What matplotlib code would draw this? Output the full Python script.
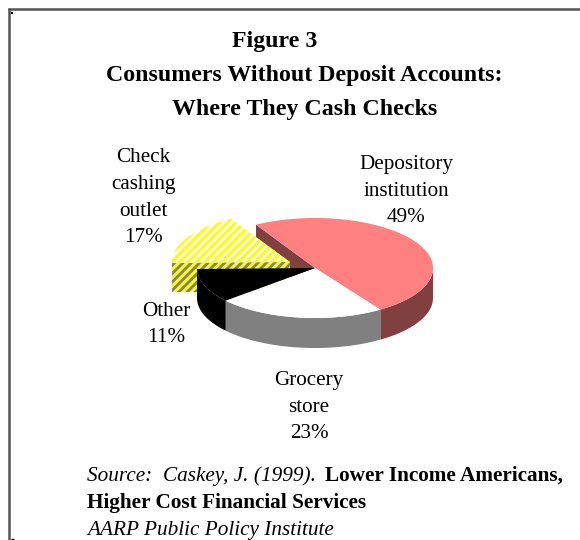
""" Figure 3: pie with fake 3D depth, drawn in pixel coordinates """
import numpy as np
import matplotlib
matplotlib.use('Agg')
import matplotlib.pyplot as plt
from matplotlib.patches import Polygon

plt.rcParams['font.family'] = ['Liberation Serif', 'DejaVu Serif']
plt.rcParams['hatch.linewidth'] = 2.2

title_lines = ['Figure 3', 'Consumers Without Deposit Accounts:', 'Where They Cash Checks']
categories = ['Depository\ninstitution', 'Grocery\nstore', 'Other', 'Check\ncashing\noutlet']
shares = [49, 23, 11, 17]

W, H = 580, 540
CX, CY = 315, 268
RX, RY = 118, 50
DEPTH = 30
START = 120  # degrees, slices run clockwise from here
XC, YC = CX - 25, CY - 6  # centre of the pulled out slice

fig = plt.figure(figsize=(W / 100, H / 100), dpi=100)
ax = fig.add_axes([0, 0, 1, 1])
ax.set_xlim(0, W)
ax.set_ylim(H, 0)
ax.axis('off')


def rim(a0, a1, cx=CX, cy=CY):
    t = np.radians(np.linspace(a0, a1, 80))
    return np.column_stack([cx + RX * np.cos(t), cy - RY * np.sin(t)])


def wedge(a0, a1, cx=CX, cy=CY):
    return np.vstack([[cx, cy], rim(a0, a1, cx, cy)])


def wall(a0, a1):
    top = rim(a0, a1)
    return np.vstack([top, top[::-1] + [0, DEPTH]])


edges = START - np.cumsum([0] + [s * 3.6 for s in shares])
a_dep = (edges[1], edges[0])
a_gro = (edges[2], edges[1])
a_oth = (edges[3], edges[2])
a_chk = (edges[4], edges[3])

# cut face of the big slice, seen through the gap
cut = np.array([rim(START, START, CX, CY)[0], [CX, CY]])
ax.add_patch(Polygon(np.vstack([cut, cut[::-1] + [0, DEPTH]]), facecolor='#804040', lw=0, zorder=1))

# pulled out slice: cut face first, then its top
left = XC - RX
ax.add_patch(Polygon([[left, YC], [XC, YC], [XC, YC + DEPTH], [left, YC + DEPTH]],
                     facecolor='#808080', edgecolor='#ffff00', hatch='////', lw=0, zorder=2))
ax.add_patch(Polygon(wedge(*a_chk, XC, YC), facecolor='white', edgecolor='#ffff00', hatch='////', lw=0, zorder=2))

# outer walls of the body
ax.add_patch(Polygon(wall(a_dep[0], 0), facecolor='#804040', lw=0, zorder=3))
ax.add_patch(Polygon(wall(*a_gro), facecolor='#808080', lw=0, zorder=3))
ax.add_patch(Polygon(wall(*a_oth), facecolor='black', lw=0, zorder=3))

# top faces
ax.add_patch(Polygon(wedge(*a_dep), facecolor='#ff8080', lw=0, zorder=4))
ax.add_patch(Polygon(wedge(*a_gro), facecolor='white', lw=0, zorder=4))
ax.add_patch(Polygon(wedge(*a_oth), facecolor='black', lw=0, zorder=4))

# text
title_x = [275, 304, 305]
title_y = [41, 75, 109]
for line, x, y in zip(title_lines, title_x, title_y):
    ax.text(x, y, line, ha='center', va='center', fontsize=17.2, fontweight='bold')

label_pos = [(406, 164), (309, 380), (166, 311), (143, 157)]
for name, share, (x, y) in zip(categories, shares, label_pos):
    for i, part in enumerate(f'{name}\n{share}%'.split('\n')):
        ax.text(x, y + i * 27, part, ha='center', va='center', fontsize=15.2)

ax.text(87, 476, 'Source:  Caskey, J. (1999).', ha='left', va='center', fontsize=15.3, style='italic')
ax.text(325, 476, 'Lower Income Americans,', ha='left', va='center', fontsize=15.3, fontweight='bold')
ax.text(87, 503, 'Higher Cost Financial Services', ha='left', va='center', fontsize=15.3, fontweight='bold')
ax.text(87, 530, 'AARP Public Policy Institute', ha='left', va='center', fontsize=15.3, style='italic')

# frame
ax.plot([8.7, 8.7], [7.5, 540], color='#555555', lw=1.8, solid_capstyle='butt')
ax.plot([7.5, 580], [8.7, 8.7], color='#555555', lw=1.8, solid_capstyle='butt')
ax.plot([12, 12], [12, 14], color='black', lw=1.5, solid_capstyle='butt')
ax.plot([11, 14], [539, 539], color='black', lw=1, solid_capstyle='butt')

fig.savefig('out.png', dpi=100)
